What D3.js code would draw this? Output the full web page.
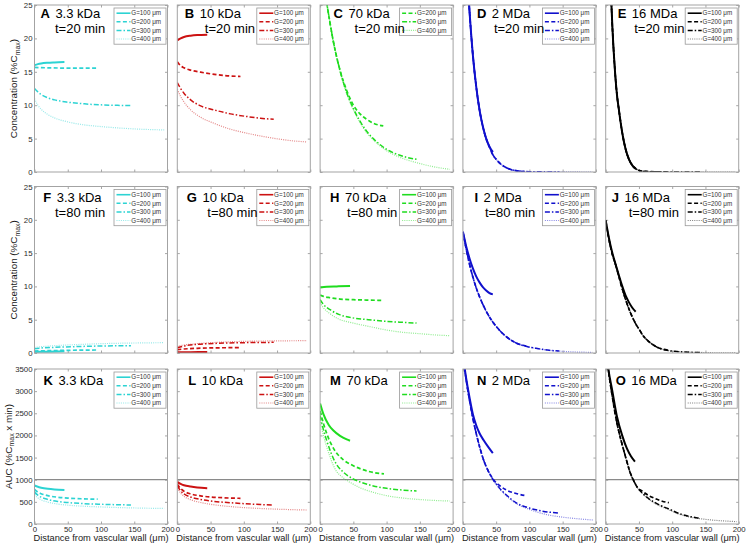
<!DOCTYPE html>
<html><head><meta charset="utf-8">
<script src="https://cdn.jsdelivr.net/npm/d3@7"></script>
<style>
body{margin:0;background:#fff}
svg{display:block}
text{font-family:"Liberation Sans",Arial,Helvetica,sans-serif}
</style>
</head><body>
<svg id="chart" width="748" height="546"></svg>
<script>
// ---------------- DATA ----------------
const panelLetters = ["A","B","C","D","E","F","G","H","I","J","K","L","M","N","O"];
const molecules = ["3.3 kDa","10 kDa","70 kDa","2 MDa","16 MDa"];
const times = ["t=20 min","t=80 min",null];
const gapLabels = ["G=100 \u03bcm","G=200 \u03bcm","G=300 \u03bcm","G=400 \u03bcm"];
const concTicks = [0,5,10,15,20,25];
const aucTicks = [0,500,1000,1500,2000,2500,3000,3500];
const xTicks = [0,50,100,150,200];
const aucReference = 1000;

// Row 1: concentration at t=20 min  ([distance µm, %Cmax])
const A100 = [[0,16.0],[5,16.15],[10,16.25],[20,16.35],[30,16.4],[45,16.45]];
const A200 = [[0,15.65],[20,15.6],[50,15.55],[95,15.55]];
const A300 = [[0,12.5],[5,12.0],[10,11.6],[20,11.1],[30,10.8],[50,10.45],[75,10.2],[100,10.05],[125,9.98],[145,9.95]];
const A400 = [[0,11.0],[5,10.0],[10,9.4],[20,8.6],[30,8.1],[50,7.5],[75,7.05],[100,6.8],[125,6.6],[150,6.45],[175,6.35],[195,6.3]];

const B100 = [[0,19.7],[5,20.0],[10,20.2],[20,20.4],[30,20.5],[45,20.55]];
const B200 = [[0,16.5],[5,15.9],[10,15.6],[20,15.25],[35,14.95],[50,14.7],[70,14.45],[95,14.3]];
const B300 = [[0,13.4],[5,12.5],[10,11.8],[20,10.8],[35,9.9],[55,9.3],[80,8.7],[105,8.3],[125,8.05],[145,7.9]];
const B400 = [[0,12.4],[5,11.3],[10,10.5],[20,9.3],[35,8.2],[55,7.3],[80,6.4],[105,5.8],[130,5.3],[155,4.9],[175,4.65],[195,4.5]];

const C200 = [[0,32],[5,28.5],[10,25.3],[20,19.5],[30,15.2],[40,12.2],[50,10.0],[60,8.7],[70,7.9],[80,7.3],[95,6.9]];
const C300 = [[0,32],[5,28.5],[10,25.3],[20,19.5],[30,15.2],[40,11.9],[50,9.5],[60,7.6],[70,6.1],[80,5.0],[100,3.4],[120,2.5],[145,1.9]];
const C400 = [[0,32],[5,28.5],[10,25.3],[20,19.4],[30,15.0],[40,11.7],[50,9.3],[60,7.4],[70,5.9],[80,4.8],[100,3.2],[120,2.2],[145,1.4],[170,0.8],[195,0.4]];

const D100 = [[0,45],[5,32.5],[10,24],[15,17.5],[20,12.8],[25,9.3],[30,6.8],[35,5.0],[40,3.8],[45,3.0]];
const D200 = [[0,45],[5,32.5],[10,24],[15,17.5],[20,12.8],[25,9.3],[30,6.8],[35,5.0],[40,3.7],[45,2.6],[50,1.9],[60,0.95],[70,0.45],[80,0.2],[95,0.06]];
const D300 = [[0,45],[5,32.5],[10,24],[15,17.5],[20,12.8],[25,9.3],[30,6.8],[35,5.0],[40,3.7],[45,2.6],[50,1.9],[60,0.95],[70,0.45],[80,0.2],[100,0.05],[120,0.02],[145,0.01]];
const D400 = [[0,45],[5,32.5],[10,24],[15,17.5],[20,12.8],[25,9.3],[30,6.8],[35,5.0],[40,3.7],[45,2.6],[50,1.9],[60,0.95],[70,0.45],[80,0.2],[100,0.05],[120,0.02],[150,0.01],[195,0.0]];

const E100 = [[0,57],[3,43],[6,32],[8,26.5],[10,21.8],[13,16.5],[17,11.5],[20,9.2],[25,5.8],[30,3.4],[35,1.9],[40,1.0],[45,0.5]];
const E200 = [[0,57],[3,43],[6,32],[8,26.5],[10,21.8],[13,16.5],[17,11.5],[20,9.2],[25,5.8],[30,3.4],[35,1.9],[40,1.0],[45,0.5],[50,0.25],[60,0.08],[80,0.02],[95,0.0]];
const E300 = [[0,57],[3,43],[6,32],[8,26.5],[10,21.8],[13,16.5],[17,11.5],[20,9.2],[25,5.8],[30,3.4],[35,1.9],[40,1.0],[45,0.5],[50,0.25],[60,0.08],[80,0.02],[100,0.0],[145,0.0]];
const E400 = [[0,57],[3,43],[6,32],[8,26.5],[10,21.8],[13,16.5],[17,11.5],[20,9.2],[25,5.8],[30,3.4],[35,1.9],[40,1.0],[45,0.5],[50,0.25],[60,0.08],[80,0.02],[100,0.0],[150,0.0],[195,0.0]];

// Row 2: concentration at t=80 min
const F100 = [[0,0.15],[20,0.2],[45,0.25]];
const F200 = [[0,0.3],[20,0.35],[50,0.4],[95,0.45]];
const F300 = [[0,0.65],[10,0.75],[30,0.85],[60,0.95],[100,1.05],[145,1.1]];
const F400 = [[0,0.85],[10,0.95],[30,1.1],[60,1.25],[100,1.4],[150,1.5],[195,1.55]];

const G100 = [[0,0.1],[20,0.12],[45,0.15]];
const G200 = [[0,0.5],[10,0.6],[30,0.7],[60,0.78],[95,0.8]];
const G300 = [[0,0.8],[10,1.05],[30,1.3],[60,1.45],[100,1.55],[145,1.6]];
const G400 = [[0,1.0],[10,1.2],[30,1.4],[60,1.6],[100,1.75],[150,1.82],[195,1.85]];

const H100 = [[0,9.85],[10,9.95],[25,10.0],[45,10.05]];
const H200 = [[0,8.7],[5,8.5],[15,8.3],[30,8.1],[50,8.0],[70,7.95],[95,7.9]];
const H300 = [[0,8.0],[5,7.3],[15,6.5],[28,5.8],[45,5.35],[73,5.0],[100,4.75],[125,4.6],[145,4.5]];
const H400 = [[0,7.6],[5,6.8],[15,5.9],[28,5.1],[45,4.6],[73,4.0],[100,3.45],[125,3.1],[150,2.9],[175,2.7],[195,2.6]];

const I100 = [[0,18.2],[5,16.0],[10,14.2],[15,12.7],[20,11.5],[25,10.6],[30,9.9],[35,9.4],[40,9.0],[45,8.8]];
const I200 = [[0,18.2],[5,15.6],[10,13.3],[15,11.4],[20,9.8],[30,7.3],[40,5.4],[50,4.0],[60,2.9],[70,2.1],[80,1.5],[95,1.05]];
const I300 = [[0,18.2],[5,15.6],[10,13.3],[15,11.4],[20,9.8],[30,7.3],[40,5.4],[50,4.0],[60,2.9],[70,2.1],[80,1.5],[95,1.0],[110,0.7],[130,0.4],[145,0.3]];
const I400 = [[0,18.2],[5,15.6],[10,13.3],[15,11.4],[20,9.8],[30,7.3],[40,5.4],[50,4.0],[60,2.9],[70,2.1],[80,1.5],[95,1.0],[110,0.7],[130,0.4],[150,0.25],[170,0.15],[195,0.1]];

const J100 = [[0,19.9],[5,17.2],[10,15.0],[15,13.3],[20,11.6],[25,10.0],[30,8.6],[35,7.6],[40,6.8],[45,6.2]];
const J200 = [[0,19.9],[5,17.0],[10,14.8],[15,13.2],[20,11.4],[25,9.6],[30,8.0],[35,6.6],[40,5.4],[45,4.4],[50,3.6],[57,2.5],[65,1.7],[75,1.0],[95,0.4]];
const J300 = [[0,19.9],[5,17.0],[10,14.8],[15,13.2],[20,11.4],[25,9.6],[30,8.0],[35,6.6],[40,5.4],[45,4.4],[50,3.6],[57,2.5],[65,1.7],[75,1.0],[90,0.45],[110,0.2],[145,0.06]];
const J400 = [[0,19.9],[5,17.0],[10,14.8],[15,13.2],[20,11.4],[25,9.6],[30,8.0],[35,6.6],[40,5.4],[45,4.4],[50,3.6],[57,2.5],[65,1.7],[75,1.0],[90,0.45],[110,0.2],[140,0.08],[170,0.03],[195,0.02]];

// Row 3: AUC (%Cmax x min)
const K100 = [[0,870],[5,840],[10,820],[20,795],[30,780],[45,770]];
const K200 = [[0,780],[5,720],[10,685],[20,640],[35,605],[50,585],[70,570],[95,560]];
const K300 = [[0,720],[5,650],[10,605],[20,555],[35,510],[50,485],[75,460],[100,445],[125,435],[145,430]];
const K400 = [[0,660],[5,590],[10,545],[20,495],[35,450],[50,425],[75,400],[100,385],[125,372],[150,362],[175,355],[195,352]];

const L100 = [[0,950],[5,905],[10,875],[20,845],[30,825],[45,810]];
const L200 = [[0,900],[5,800],[10,740],[20,680],[35,635],[50,610],[70,592],[95,580]];
const L300 = [[0,860],[5,750],[10,680],[20,610],[35,555],[50,520],[75,485],[100,460],[125,440],[145,430]];
const L400 = [[0,820],[5,700],[10,625],[20,550],[35,485],[50,445],[75,400],[100,370],[125,350],[150,335],[175,323],[195,316]];

const M100 = [[0,2720],[5,2480],[13,2235],[20,2110],[30,1990],[40,1910],[45,1880]];
const M200 = [[0,2550],[5,2270],[10,2040],[23,1640],[35,1450],[48,1330],[60,1250],[75,1180],[96,1130]];
const M300 = [[0,2450],[5,2130],[10,1880],[23,1390],[35,1170],[48,1030],[60,950],[80,860],[100,805],[125,765],[145,745]];
const M400 = [[0,2350],[5,2000],[10,1740],[23,1230],[35,1040],[48,915],[60,820],[80,715],[100,640],[125,585],[150,552],[175,530],[195,519]];

const N100 = [[0,3800],[5,3280],[10,2850],[15,2480],[20,2230],[25,2050],[31,1895],[38,1740],[45,1600]];
const N200 = [[0,3800],[5,3250],[10,2790],[15,2390],[20,2045],[25,1750],[31,1450],[38,1200],[46,1000],[55,870],[65,770],[80,690],[96,635]];
const N300 = [[0,3800],[5,3250],[10,2790],[15,2390],[20,2045],[25,1750],[31,1450],[38,1200],[46,990],[55,810],[65,660],[81,470],[100,360],[120,290],[144,245]];
const N400 = [[0,3800],[5,3250],[10,2790],[15,2390],[20,2045],[25,1750],[31,1450],[38,1200],[46,980],[55,800],[65,640],[81,455],[100,330],[125,215],[150,155],[175,115],[196,90]];

const O100 = [[0,4000],[4,3500],[10,3000],[17,2420],[25,1990],[32,1700],[38,1530],[44,1410]];
const O200 = [[0,4000],[4,3480],[10,2870],[17,2270],[22,1950],[27,1670],[32,1400],[37,1150],[42,980],[47,840],[55,740],[65,640],[75,570],[85,515],[95,481]];
const O300 = [[0,4000],[4,3480],[10,2870],[17,2270],[22,1950],[27,1670],[32,1400],[37,1150],[42,980],[47,840],[55,700],[65,570],[75,475],[85,400],[95,340],[110,240],[125,175],[142,128]];
const O400 = [[0,4000],[4,3480],[10,2870],[17,2270],[22,1950],[27,1670],[32,1400],[37,1150],[42,980],[47,840],[55,690],[65,555],[75,460],[85,385],[95,320],[110,225],[125,162],[150,105],[175,72],[197,53]];

// series table (panel order A..O; null = no curve shown)
const panelSeries = [
  [A100,A200,A300,A400],[B100,B200,B300,B400],[null,C200,C300,C400],[D100,D200,D300,D400],[E100,E200,E300,E400],
  [F100,F200,F300,F400],[G100,G200,G300,G400],[H100,H200,H300,H400],[I100,I200,I300,I400],[J100,J200,J300,J400],
  [K100,K200,K300,K400],[L100,L200,L300,L400],[M100,M200,M300,M400],[N100,N200,N300,N400],[O100,O200,O300,O400]
];

// ---------------- STYLE / LAYOUT ----------------
const colColors = ["#2cd3d3","#cc1212","#1fdc1f","#1010cc","#000000"];
const lineStyles = [
  {dash:null, w:2.0, op:1},
  {dash:"4,2.4", w:1.7, op:1},
  {dash:"5,2,1.5,2", w:1.5, op:1},
  {dash:"1,1.2", w:1.2, op:0.5}
];
const colLefts = [34.5,177.3,320.1,462.9,605.7];
const colW = 133;
const rowTops = [5,186.5,369];
const rowHeights = [167,166.5,155];
const titleBase = [[13,28.3],[15.2,30.2],[16,0]];
// per panel label offsets: [letter dx, time dx]
const labelOffsets = [
  [6,20.5],[7.5,27.5],[13.5,34.5],[14,31],[12,28.5],
  [8.8,20.5],[9.5,30],[10,27],[11.5,22],[6,23],
  [9,0],[11,0],[10,0],[14,0],[10,0]
];

const svg = d3.select("#chart");
const FONT = '"Liberation Sans",Arial,Helvetica,sans-serif';
const frameColor = "#a3a3a3";
const tickColor = "#8f8f8f";

function styleAxis(g){
  g.select(".domain").remove();
  g.selectAll(".tick line").attr("stroke",tickColor).attr("stroke-width",0.8);
  g.selectAll(".tick text").attr("fill","#2a2a2a").attr("font-size",7.8).attr("font-family",FONT);
}

for (let r=0;r<3;r++){
  for (let c=0;c<5;c++){
    const p = r*5+c;
    const x0 = colLefts[c], y0 = rowTops[r], h = rowHeights[r];
    const x = d3.scaleLinear().domain([0,200]).range([x0,x0+colW]);
    const y = d3.scaleLinear().domain(r<2?[0,25]:[0,3500]).range([y0+h,y0]);
    const yt = r<2?concTicks:aucTicks;
    const g = svg.append("g");
    const clipId = "clip"+p;
    svg.append("clipPath").attr("id",clipId).append("rect")
      .attr("x",x0).attr("y",y0).attr("width",colW).attr("height",h);

    g.append("rect").attr("x",x0).attr("y",y0).attr("width",colW).attr("height",h)
      .attr("fill","#fff");

    // axes with inward ticks
    g.append("g").attr("transform",`translate(${x0},0)`)
      .call(d3.axisLeft(y).tickValues(yt).tickSizeInner(-2.5).tickSizeOuter(0).tickPadding(2)
        .tickFormat(c===0?d3.format("d"):()=>""))
      .call(styleAxis);
    g.append("g").attr("transform",`translate(${x0+colW},0)`)
      .call(d3.axisRight(y).tickValues(yt).tickSizeInner(-2.5).tickSizeOuter(0).tickFormat(()=>""))
      .call(styleAxis);
    g.append("g").attr("transform",`translate(0,${y0})`)
      .call(d3.axisTop(x).tickValues(xTicks).tickSizeInner(-2.5).tickSizeOuter(0).tickFormat(()=>""))
      .call(styleAxis);
    g.append("g").attr("transform",`translate(0,${y0+h})`)
      .call(d3.axisBottom(x).tickValues(xTicks).tickSizeInner(-2.5).tickSizeOuter(0).tickPadding(2.5)
        .tickFormat(r===2?d3.format("d"):()=>""))
      .call(styleAxis);

    // AUC reference line
    if (r===2){
      g.append("line").attr("x1",x(0)).attr("x2",x(200)).attr("y1",y(aucReference)).attr("y2",y(aucReference))
        .attr("stroke","#8a8a8a").attr("stroke-width",1.2);
    }

    // curves
    const line = d3.line().x(d=>x(d[0])).y(d=>y(d[1])).curve(d3.curveMonotoneX);
    const cg = g.append("g").attr("clip-path",`url(#${clipId})`);
    [3,2,1,0].forEach(s=>{
      const data = panelSeries[p][s];
      if(!data) return;
      const st = lineStyles[s];
      cg.append("path").attr("d",line(data)).attr("fill","none")
        .attr("stroke",colColors[c]).attr("stroke-width",st.w)
        .attr("stroke-opacity",st.op)
        .attr("stroke-dasharray",st.dash);
    });

    // frame
    g.append("rect").attr("x",x0).attr("y",y0).attr("width",colW).attr("height",h)
      .attr("fill","none").attr("stroke",frameColor).attr("stroke-width",1);

    // legend
    const present = d3.range(4).filter(s=>panelSeries[p][s]);
    const lw = 52, rowH = 8.6;
    const lx = x0+colW-1.5-lw, ly = y0+3;
    const lg = g.append("g");
    lg.append("rect").attr("x",lx).attr("y",ly).attr("width",lw).attr("height",present.length*rowH+1.8)
      .attr("fill","#fff").attr("stroke","#9a9a9a").attr("stroke-width",0.8);
    present.forEach((s,i)=>{
      const yy = ly+5.2+i*rowH;
      const st = lineStyles[s];
      lg.append("line").attr("x1",lx+2.5).attr("x2",lx+16.5).attr("y1",yy).attr("y2",yy)
        .attr("stroke",colColors[c]).attr("stroke-width",Math.min(st.w,1.6))
        .attr("stroke-opacity",st.op).attr("stroke-dasharray",st.dash);
      lg.append("text").attr("x",lx+17.3).attr("y",yy).attr("dy","0.35em")
        .attr("font-size",6.3).attr("fill","#333").text(gapLabels[s]);
    });

    // panel title
    const lo = labelOffsets[p];
    const tb = titleBase[r];
    const tt = g.append("text").attr("x",x0+lo[0]).attr("y",y0+tb[0]).attr("font-size",13).attr("fill","#000");
    tt.append("tspan").attr("font-weight","bold").text(panelLetters[p]);
    tt.append("tspan").attr("dx",5.5).text(molecules[c]);
    if (times[r]){
      g.append("text").attr("x",x0+lo[1]).attr("y",y0+tb[1]).attr("font-size",13)
        .attr("fill","#000").text(times[r]);
    }

    // x-axis title
    if (r===2){
      g.append("text").attr("x",x0+colW/2).attr("y",540.5).attr("text-anchor","middle")
        .attr("font-size",9.3).attr("fill","#1a1a1a").text("Distance from vascular wall (\u03bcm)");
    }
  }
  // y-axis title
  const cy = rowTops[r]+rowHeights[r]/2;
  const tx = r<2?17:11.5;
  const t = svg.append("text").attr("transform",`translate(${tx},${cy}) rotate(-90)`)
    .attr("text-anchor","middle").attr("font-size",9.8).attr("fill","#1a1a1a");
  if (r<2){
    t.append("tspan").text("Concentration (%C");
    t.append("tspan").attr("font-size",7).attr("dy",2.5).text("max");
    t.append("tspan").attr("dy",-2.5).text(")");
  } else {
    t.append("tspan").text("AUC (%C");
    t.append("tspan").attr("font-size",7).attr("dy",2.5).text("max");
    t.append("tspan").attr("dy",-2.5).text(" x min)");
  }
}
</script>
</body></html>
